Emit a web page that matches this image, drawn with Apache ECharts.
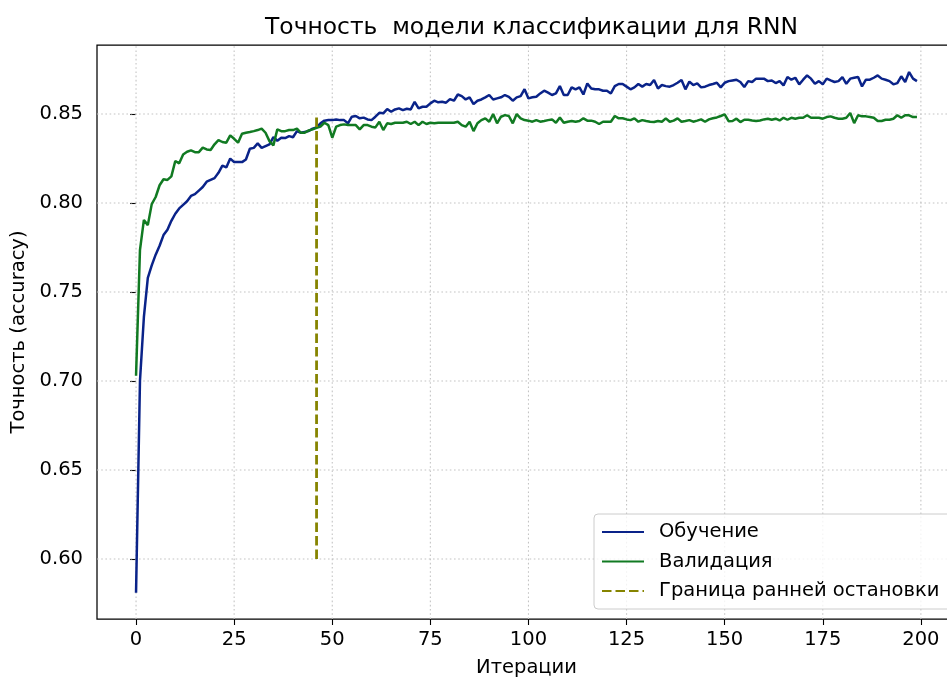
<!DOCTYPE html>
<html>
<head>
<meta charset="utf-8">
<script src="https://cdn.jsdelivr.net/npm/echarts@6/dist/echarts.min.js"></script>
<style>
html,body{margin:0;padding:0;background:#fff;}
#chart{width:947px;height:681px;}
</style>
</head>
<body>
<div id="chart"></div>
<script>
const titleText = 'Точность  модели классификации для RNN';
const xAxisName = 'Итерации';
const yAxisName = 'Точность (accuracy)';
const legendNames = ['Обучение', 'Валидация', 'Граница ранней остановки'];

const xTicks = [0, 25, 50, 75, 100, 125, 150, 175, 200];
const yTicks = [0.60, 0.65, 0.70, 0.75, 0.80, 0.85];

const trainAcc = [
0.581,0.700,0.736,0.758,0.765,0.771,0.776,0.782,0.785,0.790,
0.794,0.797,0.799,0.801,0.804,0.805,0.807,0.809,0.812,0.813,
0.814,0.817,0.821,0.820,0.825,0.823,0.823,0.823,0.8245,0.8305,
0.831,0.8335,0.831,0.832,0.833,0.837,0.835,0.8367,0.8365,0.8376,
0.837,0.8404,0.8395,0.840,0.8405,0.8418,0.8425,0.8448,0.8463,0.8466,
0.8466,0.847,0.8466,0.8466,0.8448,0.8485,0.8489,0.8476,0.848,0.847,
0.8466,0.8485,0.8507,0.8504,0.8528,0.8513,0.8526,0.8532,0.8522,0.853,
0.8526,0.8569,0.8532,0.8541,0.8541,0.856,0.8575,0.8566,0.8569,0.8564,
0.8584,0.8575,0.861,0.8601,0.8582,0.8594,0.8556,0.8575,0.8582,0.8594,
0.8607,0.8582,0.8588,0.8594,0.8607,0.8597,0.8575,0.8594,0.8601,0.864,
0.8588,0.8594,0.8597,0.8616,0.8631,0.862,0.8607,0.8616,0.8657,0.8607,
0.8607,0.865,0.8639,0.865,0.861,0.8672,0.8644,0.8639,0.8639,0.8631,
0.8631,0.8616,0.8657,0.8669,0.8669,0.8654,0.8639,0.865,0.8669,0.8654,
0.8669,0.8663,0.8691,0.8644,0.8663,0.8657,0.8654,0.8663,0.8676,0.8691,
0.8639,0.8682,0.8663,0.8672,0.865,0.8654,0.8663,0.8669,0.8676,0.865,
0.8676,0.8685,0.8689,0.8693,0.868,0.8652,0.8685,0.868,0.8699,0.8699,
0.8699,0.8685,0.8689,0.8674,0.8685,0.8661,0.8708,0.8693,0.8704,0.8667,
0.8693,0.8717,0.8699,0.867,0.8685,0.8667,0.8699,0.8689,0.868,0.8685,
0.8708,0.867,0.8699,0.8704,0.8708,0.8655,0.8693,0.8693,0.8704,0.8717,
0.8699,0.8693,0.8685,0.8667,0.8674,0.8712,0.868,0.8736,0.8699,0.8685
];

const valAcc = [
0.703,0.7736,0.7905,0.7876,0.7994,0.8034,0.810,0.8134,0.813,0.815,
0.8236,0.8223,0.8273,0.8288,0.8296,0.8286,0.8286,0.8311,0.8301,0.8298,
0.833,0.8354,0.8343,0.8339,0.838,0.8361,0.8339,0.8389,0.8395,0.8399,
0.8404,0.841,0.8418,0.8395,0.8348,0.8324,0.8414,0.8404,0.8404,0.841,
0.841,0.8418,0.8395,0.8395,0.8408,0.8414,0.8423,0.843,0.8451,0.8438,
0.8367,0.8429,0.8438,0.8442,0.8438,0.8438,0.8438,0.8414,0.8438,0.8438,
0.8429,0.8425,0.8457,0.841,0.8448,0.8444,0.8451,0.8451,0.8451,0.8457,
0.8444,0.8457,0.8438,0.8457,0.8444,0.8451,0.8448,0.8451,0.8451,0.8451,
0.8451,0.8451,0.8457,0.8438,0.8429,0.8457,0.8404,0.8448,0.8466,0.8476,
0.8457,0.85,0.8448,0.8485,0.8494,0.8489,0.8448,0.85,0.8476,0.8466,
0.8463,0.8457,0.8466,0.8457,0.8461,0.8466,0.847,0.8451,0.8481,0.8451,
0.8457,0.8461,0.8457,0.8461,0.8476,0.8463,0.8463,0.8457,0.8444,0.8457,
0.8457,0.8457,0.8489,0.8476,0.8476,0.847,0.8466,0.8476,0.8457,0.8466,
0.8461,0.8457,0.8455,0.8461,0.8457,0.8476,0.8457,0.8463,0.8476,0.8457,
0.8461,0.8466,0.8457,0.8463,0.847,0.8457,0.847,0.8476,0.8481,0.8489,
0.8498,0.846,0.8461,0.8474,0.8455,0.8468,0.8468,0.8464,0.8461,0.8464,
0.847,0.8474,0.8468,0.8474,0.8464,0.8479,0.8468,0.8479,0.8474,0.8479,
0.8479,0.8493,0.8479,0.8479,0.8479,0.8474,0.8483,0.8487,0.8479,0.8474,
0.8474,0.8479,0.8506,0.8449,0.8493,0.8487,0.8487,0.8483,0.8479,0.8461,
0.8461,0.8468,0.8468,0.8474,0.8493,0.8479,0.8493,0.8493,0.8483,0.8483
];

const earlyStopEpoch = 46;
const earlyStopRange = [0.60, 0.85];

const X_MIN = -9.95, X_MAX = 208.95;
const Y_MIN = 0.5663, Y_MAX = 0.8888;

const FONT = 'DejaVu Sans';
const FS = 19.5;

const trainData = trainAcc.map((v, i) => [i, v]);
const valData = valAcc.map((v, i) => [i, v]);
const stopData = earlyStopRange.map(v => [earlyStopEpoch, v]);

const gridStyle = {color: '#c4c4c4', type: [1.6, 2.6], width: 1.1};
const gridSeries = [];
xTicks.forEach(t => gridSeries.push({
  type: 'line', data: [[t, Y_MIN], [t, Y_MAX]], symbol: 'none', silent: true, z: 1,
  lineStyle: gridStyle, emphasis: {disabled: true}, tooltip: {show: false}
}));
yTicks.forEach(t => gridSeries.push({
  type: 'line', data: [[X_MIN, t], [X_MAX, t]], symbol: 'none', silent: true, z: 1,
  lineStyle: gridStyle, emphasis: {disabled: true}, tooltip: {show: false}
}));

const chart = echarts.init(document.getElementById('chart'), null, {renderer: 'canvas'});

chart.setOption({
  animation: false,
  backgroundColor: '#ffffff',
  title: {
    text: titleText,
    left: 526.5,
    top: 11,
    textAlign: 'center',
    textStyle: {fontFamily: FONT, fontSize: 23.4, fontWeight: 'normal', color: '#000'}
  },
  grid: {
    left: 97, top: 45, width: 859, height: 574,
    outerBoundsMode: 'none',
    show: true, borderColor: '#000', borderWidth: 1.25, backgroundColor: 'transparent',
    containLabel: false
  },
  xAxis: {
    type: 'value',
    min: X_MIN, max: X_MAX,
    name: xAxisName,
    nameLocation: 'middle',
    nameGap: 39,
    nameTextStyle: {fontFamily: FONT, fontSize: FS, color: '#000'},
    axisLine: {show: false},
    axisTick: {show: true, inside: false, length: 6, customValues: xTicks, lineStyle: {color: '#000', width: 1.1}},
    axisLabel: {customValues: xTicks, margin: 11, fontFamily: FONT, fontSize: FS, color: '#000'},
    splitLine: {show: false, lineStyle: {opacity: 0}},
    minorSplitLine: {show: false}
  },
  yAxis: {
    type: 'value',
    min: Y_MIN, max: Y_MAX,
    name: yAxisName,
    nameLocation: 'middle',
    nameGap: 67,
    nameRotate: 90,
    nameTextStyle: {fontFamily: FONT, fontSize: FS, color: '#000'},
    axisLine: {show: false},
    axisTick: {show: true, inside: false, length: 6, customValues: yTicks, lineStyle: {color: '#000', width: 1.1}},
    axisLabel: {customValues: yTicks, margin: 14, fontFamily: FONT, fontSize: FS, color: '#000',
      formatter: v => v.toFixed(2)},
    splitLine: {show: false, lineStyle: {opacity: 0}},
    minorSplitLine: {show: false}
  },
  legend: {
    orient: 'vertical',
    left: 594,
    top: 514,
    padding: [8, 40, 8, 7],
    itemWidth: 42,
    itemHeight: 14,
    itemGap: 9.5,
    backgroundColor: 'rgba(255,255,255,0.8)',
    borderColor: '#cccccc',
    borderWidth: 1,
    borderRadius: 4,
    itemStyle: {color: 'rgba(0,0,0,0)', borderWidth: 0, opacity: 0},
    textStyle: {fontFamily: FONT, fontSize: FS, color: '#000', lineHeight: 20, padding: [0, 0, 0, 10]},
    data: legendNames
  },
  series: gridSeries.concat([
    {
      name: legendNames[0], type: 'line', data: trainData,
      symbol: 'none', smooth: false, z: 2,
      lineStyle: {color: '#0a2389', width: 2.5},
      itemStyle: {color: '#0a2389'}
    },
    {
      name: legendNames[1], type: 'line', data: valData,
      symbol: 'none', smooth: false, z: 3,
      lineStyle: {color: '#117a22', width: 2.5},
      itemStyle: {color: '#117a22'}
    },
    {
      name: legendNames[2], type: 'line', data: stopData,
      symbol: 'none', z: 4,
      lineStyle: {color: '#868400', width: 2.8, type: [9.5, 4]},
      itemStyle: {color: '#868400'}
    }
  ])
});
</script>
</body>
</html>
